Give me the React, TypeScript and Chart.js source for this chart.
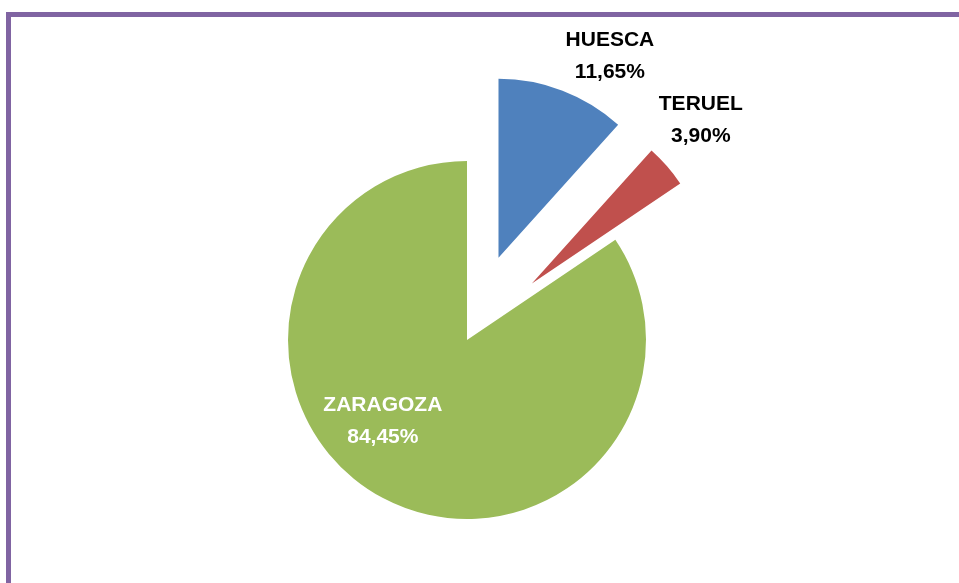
import React, { useEffect, useRef } from "react";
import { Chart, registerables } from "chart.js";

Chart.register(...registerables);

const categories = ["HUESCA", "TERUEL", "ZARAGOZA"];
const shares = [11.65, 3.9, 84.45];
const valueLabels = ["11,65%", "3,90%", "84,45%"];

const colors = ["#4F81BD", "#C0504D", "#9BBB59"];
const labelColors = ["#000000", "#000000", "#FFFFFF"];
// desired explosion distance of each slice, in px
const explodePx = [88, 86, 0];
// label placement relative to the (exploded) slice centre
const labelDist = [230, 235, 117];
const labelAngleShiftDeg = [8, -3, 18];

const PIE_RADIUS = 179;
// Chart.js arc translates by offset/4 along its mid angle
const chartOffsets = explodePx.map((d) => d * 4);

const FONT = 'bold 21px "Liberation Sans", Arial, sans-serif';

// keep exploded slices at full radius and full angle (neutralise Chart.js small-arc shrink)
const explodeFixPlugin = {
  id: "explodeFix",
  afterDatasetUpdate(chart: any) {
    const meta = chart.getDatasetMeta(0);
    meta.data.forEach((arc: any, i: number) => {
      if (chartOffsets[i] > 0) {
        arc.$trueCircumference = arc.circumference;
        arc.circumference = Math.PI / 2;
      }
    });
  },
};

const labelPlugin = {
  id: "sliceLabels",
  afterDatasetsDraw(chart: any) {
    const meta = chart.getDatasetMeta(0);
    const ctx = chart.ctx;
    ctx.save();
    ctx.font = FONT;
    ctx.textAlign = "center";
    ctx.textBaseline = "middle";
    meta.data.forEach((arc: any, i: number) => {
      const mid = (arc.startAngle + arc.endAngle) / 2;
      const d = chartOffsets[i] / 4;
      const cx = arc.x + Math.cos(mid) * d;
      const cy = arc.y + Math.sin(mid) * d;
      const a = mid + (labelAngleShiftDeg[i] * Math.PI) / 180;
      const lx = cx + Math.cos(a) * labelDist[i];
      const ly = cy + Math.sin(a) * labelDist[i];
      ctx.fillStyle = labelColors[i];
      ctx.fillText(categories[i], lx, ly - 16);
      ctx.fillText(valueLabels[i], lx, ly + 16);
    });
    ctx.restore();
  },
};

export default function App() {
  const ref = useRef<HTMLCanvasElement | null>(null);
  useEffect(() => {
    if (!ref.current) return;
    const chart = new Chart(ref.current, {
      type: "pie",
      data: {
        labels: categories,
        datasets: [
          {
            data: shares,
            backgroundColor: colors,
            borderWidth: 0,
            offset: chartOffsets,
            clip: false as any,
          } as any,
        ],
      },
      options: {
        animation: false,
        responsive: false,
        devicePixelRatio: 1,
        radius: PIE_RADIUS,
        layout: { padding: { left: 0, right: 25, top: 97, bottom: 0 } },
        plugins: { legend: { display: false }, tooltip: { enabled: false } },
      } as any,
      plugins: [explodeFixPlugin, labelPlugin],
    });
    return () => chart.destroy();
  }, []);

  return (
    <div style={{ position: "absolute", left: 0, top: 0, width: 959, height: 583, background: "#fff", overflow: "hidden" }}>
      <div
        style={{
          position: "absolute",
          left: 6,
          top: 12,
          width: 1000,
          height: 700,
          borderLeft: "5px solid #8064A2",
          borderTop: "5px solid #8064A2",
        }}
      />
      <canvas ref={ref} width={959} height={583} style={{ position: "absolute", left: 0, top: 0 }} />
    </div>
  );
}
